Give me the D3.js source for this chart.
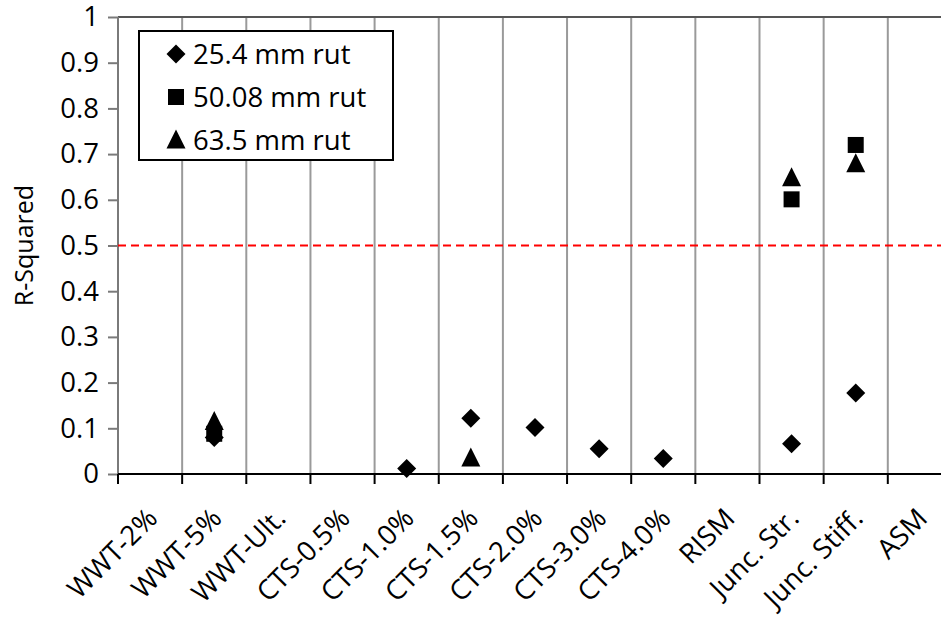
<!DOCTYPE html>
<html>
<head>
<meta charset="utf-8">
<script src="https://cdn.jsdelivr.net/npm/d3@7"></script>
<style>
  body { margin: 0; background: #fff; }
  text { font-family: "Open Sans", sans-serif; fill: #000; }
</style>
</head>
<body>
<svg id="chart"></svg>
<script>
// chart data
const categories = ["WWT-2%", "WWT-5%", "WWT-Ult.", "CTS-0.5%", "CTS-1.0%", "CTS-1.5%",
  "CTS-2.0%", "CTS-3.0%", "CTS-4.0%", "RISM", "Junc. Str.", "Junc. Stiff.", "ASM"]
const rut25 = [null, 0.08, null, null, 0.012, 0.122, 0.102, 0.055, 0.034, null, 0.066, 0.177, null]
const rut50 = [null, 0.088, null, null, null, null, null, null, null, null, 0.601, 0.72, null]
const rut63 = [null, 0.115, null, null, null, 0.035, null, null, null, null, 0.648, 0.679, null]
const seriesNames = ["25.4 mm rut", "50.08 mm rut", "63.5 mm rut"]
const yTicks = [0, 0.1, 0.2, 0.3, 0.4, 0.5, 0.6, 0.7, 0.8, 0.9, 1]
const threshold = 0.5

const width = 941, height = 623
const margin = { left: 118, top: 17, bottom: 474 }
const fontSize = "27.5px"

const svg = d3.select("#chart")
    .attr("width", width)
    .attr("height", height)

// scales
const xScale = d3.scaleBand()
    .domain(categories)
    .range([margin.left, margin.left + 64.15 * categories.length])
    .padding(0)

const yScale = d3.scaleLinear()
    .domain([0, 1])
    .range([margin.bottom, margin.top])

// vertical gridlines
svg.append("g")
    .selectAll("line")
    .data(categories.slice(1))
    .join("line")
    .attr("x1", d => xScale(d))
    .attr("x2", d => xScale(d))
    .attr("y1", yScale(1))
    .attr("y2", yScale(0))
    .attr("stroke", "#9a9a9a")
    .attr("stroke-width", 2)

// top border
svg.append("line")
    .attr("x1", margin.left).attr("x2", width)
    .attr("y1", yScale(1)).attr("y2", yScale(1))
    .attr("stroke", "#555").attr("stroke-width", 2)

// y axis
function yAxis(g) {
    g.attr("transform", `translate(${margin.left},0)`)
        .call(d3.axisLeft(yScale).tickValues(yTicks).tickFormat(d => d3.format("")(d)).tickSize(10).tickPadding(9))
    g.selectAll("path, line").attr("stroke", "#7a7a7a").attr("stroke-width", 2)
    g.select(".domain").attr("d", `M0,${yScale(0)}V${yScale(1)}`)
    g.selectAll("text").attr("font-size", fontSize).attr("fill", "#000")
        .style("font-family", "'Open Sans', sans-serif")
}
svg.append("g").call(yAxis)

// x axis
function xAxis(g) {
    g.attr("transform", `translate(0,${margin.bottom})`)
    g.append("line")
        .attr("x1", margin.left).attr("x2", width)
        .attr("stroke", "#000").attr("stroke-width", 2)
    g.selectAll(".tk")
        .data(categories)
        .join("line")
        .attr("class", "tk")
        .attr("x1", d => xScale(d)).attr("x2", d => xScale(d))
        .attr("y1", 0).attr("y2", 10)
        .attr("stroke", "#000").attr("stroke-width", 2)
    g.selectAll("text")
        .data(categories)
        .join("text")
        .attr("transform", d => `translate(${xScale(d) + xScale.bandwidth() / 2 + 9},${46}) rotate(-45)`)
        .attr("text-anchor", "end")
        .attr("font-size", fontSize)
        .text(d => d)
}
svg.append("g").call(xAxis)

// y label
svg.append("text")
    .attr("transform", `translate(33,${yScale(0.5)}) rotate(-90)`)
    .attr("text-anchor", "middle")
    .attr("font-size", "25px")
    .text("R-Squared")

// threshold line
svg.append("line")
    .attr("x1", margin.left).attr("x2", width)
    .attr("y1", yScale(threshold)).attr("y2", yScale(threshold))
    .attr("stroke", "#ff0000")
    .attr("stroke-width", 2)
    .attr("stroke-dasharray", "8,5")

// marker shapes
const shapes = {
    diamond: "M0,-9.5L9.5,0L0,9.5L-9.5,0Z",
    square: "M-8,-8H8V8H-8Z",
    triangle: "M0,-10.5L9.5,8.5H-9.5Z"
}
const shapeKeys = ["diamond", "square", "triangle"]
const allSeries = [rut25, rut50, rut63]

allSeries.forEach((vals, s) => {
    svg.append("g")
        .selectAll("path")
        .data(vals.map((v, i) => ({ cat: categories[i], v })).filter(d => d.v !== null))
        .join("path")
        .attr("d", shapes[shapeKeys[s]])
        .attr("transform", d => `translate(${xScale(d.cat) + xScale.bandwidth() / 2},${yScale(d.v)})`)
        .attr("fill", "#000")
})

// legend
const legend = svg.append("g").attr("transform", "translate(139,31)")
legend.append("rect")
    .attr("width", 254).attr("height", 129)
    .attr("fill", "#fff").attr("stroke", "#000").attr("stroke-width", 2)
seriesNames.forEach((name, i) => {
    const row = legend.append("g").attr("transform", `translate(37,${23 + i * 43})`)
    row.append("path").attr("d", shapes[shapeKeys[i]]).attr("fill", "#000")
    row.append("text").attr("x", 17).attr("y", 10).attr("font-size", fontSize).text(name)
})
</script>
</body>
</html>
